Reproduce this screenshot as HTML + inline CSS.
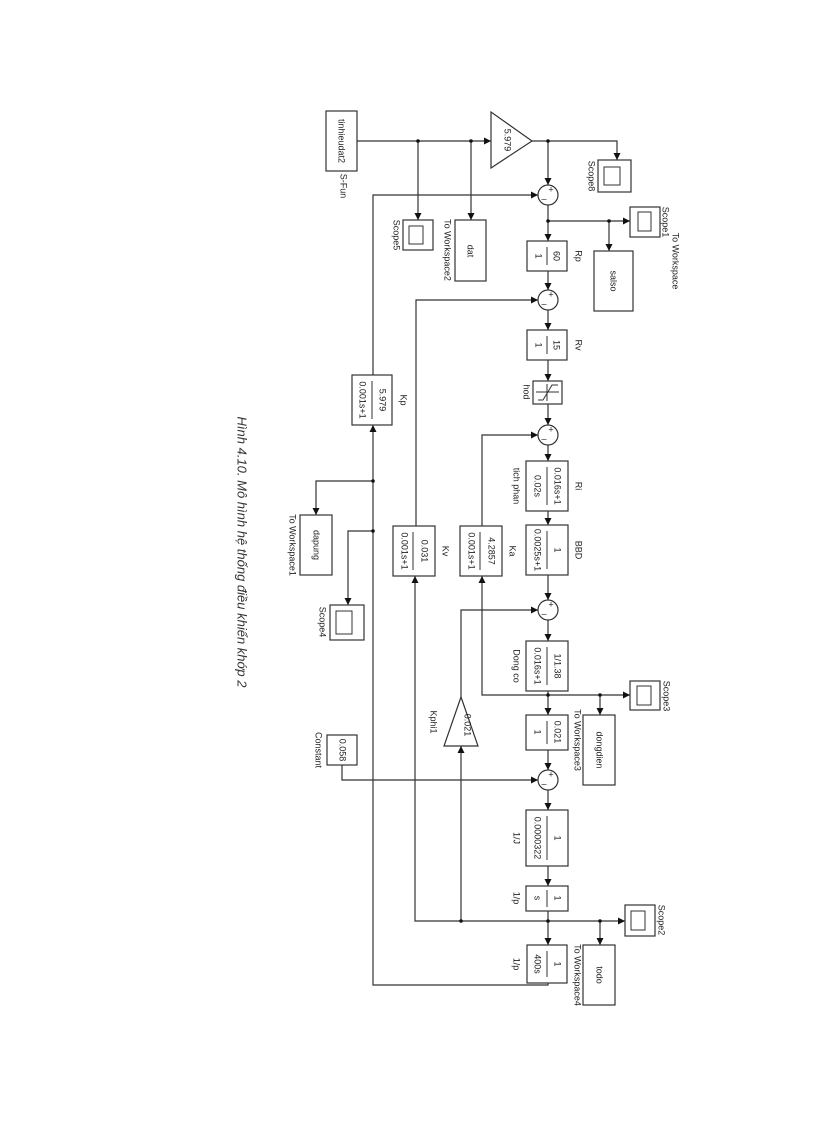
<!DOCTYPE html>
<html><head><meta charset="utf-8"><style>
html,body{margin:0;padding:0;background:#fff;}
svg{display:block;}
text{font-family:"Liberation Sans",sans-serif;font-size:9px;fill:#222;}
</style></head><body>
<svg width="816" height="1123" viewBox="0 0 816 1123" xmlns="http://www.w3.org/2000/svg">
<defs>
<marker id="a" viewBox="0 0 10 10" refX="10" refY="5" markerWidth="7" markerHeight="7" orient="auto" markerUnits="userSpaceOnUse"><path d="M0,0 L10,5 L0,10 z" fill="#111"/></marker>
</defs>
<g fill="none" stroke="#333" stroke-width="1.2">
<path d="M357,141 H491" marker-end="url(#a)"/>
<path d="M418,141 V220" marker-end="url(#a)"/>
<path d="M471,141 V220" marker-end="url(#a)"/>
<path d="M532,141 H617 V160" marker-end="url(#a)"/>
<path d="M548,141 V185" marker-end="url(#a)"/>
<path d="M373,375 V195 H538" marker-end="url(#a)"/>
<path d="M548,205 V241" marker-end="url(#a)"/>
<path d="M548,221 H630" marker-end="url(#a)"/>
<path d="M609,221 V251" marker-end="url(#a)"/>
<path d="M548,271 V290" marker-end="url(#a)"/>
<path d="M416,526 V300 H538" marker-end="url(#a)"/>
<path d="M548,310 V330" marker-end="url(#a)"/>
<path d="M548,360 V381" marker-end="url(#a)"/>
<path d="M548,404 V425" marker-end="url(#a)"/>
<path d="M482,526 V435 H538" marker-end="url(#a)"/>
<path d="M548,445 V461" marker-end="url(#a)"/>
<path d="M548,511 V525" marker-end="url(#a)"/>
<path d="M548,575 V600" marker-end="url(#a)"/>
<path d="M461,697 V610 H538" marker-end="url(#a)"/>
<path d="M548,620 V641" marker-end="url(#a)"/>
<path d="M548,691 V715" marker-end="url(#a)"/>
<path d="M548,695 H630" marker-end="url(#a)"/>
<path d="M548,695 H482 V576" marker-end="url(#a)"/>
<path d="M600,695 V715" marker-end="url(#a)"/>
<path d="M548,750 V770" marker-end="url(#a)"/>
<path d="M342,765 V780 H538" marker-end="url(#a)"/>
<path d="M548,790 V810" marker-end="url(#a)"/>
<path d="M548,866 V886" marker-end="url(#a)"/>
<path d="M548,911 V945" marker-end="url(#a)"/>
<path d="M548,921 H625" marker-end="url(#a)"/>
<path d="M548,921 H415 V576" marker-end="url(#a)"/>
<path d="M461,921 V746" marker-end="url(#a)"/>
<path d="M600,921 V945" marker-end="url(#a)"/>
<path d="M548,983 V985 H373 V425" marker-end="url(#a)"/>
<path d="M373,481 H316 V515" marker-end="url(#a)"/>
<path d="M373,531 H348 V605" marker-end="url(#a)"/>
</g>
<g fill="#111">
<circle cx="418" cy="141" r="1.8"/><circle cx="471" cy="141" r="1.8"/><circle cx="548" cy="141" r="1.8"/>
<circle cx="548" cy="221" r="1.8"/><circle cx="609" cy="221" r="1.8"/><circle cx="548" cy="695" r="1.8"/>
<circle cx="600" cy="695" r="1.8"/><circle cx="548" cy="921" r="1.8"/><circle cx="461" cy="921" r="1.8"/>
<circle cx="600" cy="921" r="1.8"/><circle cx="373" cy="481" r="1.8"/><circle cx="373" cy="531" r="1.8"/>
</g>
<g fill="#fff" stroke="#333" stroke-width="1.2">
<rect x="326" y="111" width="31" height="60"/>
<polygon points="491,112 491,168 532,141"/>
<rect x="403" y="220" width="30" height="30"/>
<rect x="455" y="220" width="31" height="61"/>
<rect x="598" y="160" width="33" height="32"/>
<rect x="630" y="207" width="30" height="30"/>
<rect x="594" y="251" width="39" height="60"/>
<rect x="352" y="375" width="40" height="50"/>
<rect x="527" y="241" width="40" height="30"/>
<rect x="527" y="330" width="40" height="30"/>
<rect x="533" y="381" width="29" height="23"/>
<rect x="526" y="461" width="42" height="50"/>
<rect x="526" y="525" width="42" height="50"/>
<rect x="460" y="526" width="42" height="50"/>
<rect x="393" y="526" width="42" height="50"/>
<rect x="526" y="641" width="42" height="50"/>
<rect x="630" y="681" width="30" height="29"/>
<rect x="583" y="715" width="32" height="70"/>
<rect x="526" y="715" width="42" height="35"/>
<polygon points="461,697 444,746 478,746"/>
<rect x="327" y="735" width="30" height="30"/>
<rect x="526" y="810" width="42" height="56"/>
<rect x="526" y="886" width="42" height="25"/>
<rect x="625" y="905" width="30" height="31"/>
<rect x="583" y="945" width="32" height="60"/>
<rect x="527" y="945" width="40" height="38"/>
<rect x="300" y="515" width="32" height="60"/>
<rect x="330" y="605" width="34" height="35"/>
<circle cx="548" cy="195" r="10"/><circle cx="548" cy="300" r="10"/><circle cx="548" cy="435" r="10"/>
<circle cx="548" cy="610" r="10"/><circle cx="548" cy="780" r="10"/>
</g>
<g fill="none" stroke="#333" stroke-width="1">
<rect x="409" y="226" width="14" height="18"/><rect x="604" y="167" width="16" height="18"/>
<rect x="638" y="212" width="13" height="19"/><rect x="637" y="686" width="14" height="19"/>
<rect x="631" y="911" width="14" height="19"/><rect x="336" y="611" width="16" height="23"/>
<path d="M547,247 V265 M547,336 V354 M547,467 V505 M547,531 V569 M480,532 V570 M413,532 V570 M372,381 V419 M547,647 V685 M547,721 V744 M547,816 V860 M547,890 V907 M547,951 V977"/>
<path d="M536,392 H559 M547,384 V401 M538,400 L543,400 Q548,392 552,385 L558,385"/>
</g>
<g text-anchor="middle" dominant-baseline="middle">
<text transform="translate(341,141) rotate(90)">tinhieudat2</text>
<text transform="translate(343,186) rotate(90)">S-Fun</text>
<text transform="translate(507,140) rotate(90)">5.979</text>
<text transform="translate(470,251) rotate(90)">dat</text>
<text transform="translate(447,250) rotate(90)">To Workspace2</text>
<text transform="translate(396,235) rotate(90)">Scope5</text>
<text transform="translate(591,176) rotate(90)">Scope8</text>
<text transform="translate(665,222) rotate(90)">Scope1</text>
<text transform="translate(675,261) rotate(90)">To Workspace</text>
<text transform="translate(613,281) rotate(90)">salso</text>
<text transform="translate(556,256) rotate(90)">60</text><text transform="translate(538,256) rotate(90)">1</text>
<text transform="translate(578,256) rotate(90)">Rp</text>
<text transform="translate(556,345) rotate(90)">15</text><text transform="translate(538,345) rotate(90)">1</text>
<text transform="translate(578,345) rotate(90)">Rv</text>
<text transform="translate(526,392) rotate(90)">hod</text>
<text transform="translate(557,486) rotate(90)">0.016s+1</text><text transform="translate(537,486) rotate(90)">0.02s</text>
<text transform="translate(578,486) rotate(90)">Ri</text><text transform="translate(516,486) rotate(90)">tich phan</text>
<text transform="translate(557,550) rotate(90)">1</text><text transform="translate(537,550) rotate(90)">0.0025s+1</text>
<text transform="translate(578,550) rotate(90)">BBD</text>
<text transform="translate(491,551) rotate(90)">4.2857</text><text transform="translate(471,551) rotate(90)">0.001s+1</text>
<text transform="translate(512,551) rotate(90)">Ka</text>
<text transform="translate(424,551) rotate(90)">0.031</text><text transform="translate(404,551) rotate(90)">0.001s+1</text>
<text transform="translate(445,551) rotate(90)">Kv</text>
<text transform="translate(382,400) rotate(90)">5.979</text><text transform="translate(362,400) rotate(90)">0.001s+1</text>
<text transform="translate(403,400) rotate(90)">Kp</text>
<text transform="translate(316,545) rotate(90)">dapung</text>
<text transform="translate(292,545) rotate(90)">To Workspace1</text>
<text transform="translate(322,622) rotate(90)">Scope4</text>
<text transform="translate(557,666) rotate(90)">1/1.38</text><text transform="translate(537,666) rotate(90)">0.016s+1</text>
<text transform="translate(516,666) rotate(90)">Dong co</text>
<text transform="translate(666,696) rotate(90)">Scope3</text>
<text transform="translate(599,750) rotate(90)">dongdien</text>
<text transform="translate(577,740) rotate(90)">To Workspace3</text>
<text transform="translate(557,732) rotate(90)">0.021</text><text transform="translate(537,732) rotate(90)">1</text>
<text transform="translate(467,725) rotate(90)">0.021</text>
<text transform="translate(433,722) rotate(90)">Kphi1</text>
<text transform="translate(342,750) rotate(90)">0.058</text>
<text transform="translate(318,750) rotate(90)">Constant</text>
<text transform="translate(557,838) rotate(90)">1</text><text transform="translate(537,838) rotate(90)">0.0000322</text>
<text transform="translate(516,838) rotate(90)">1/J</text>
<text transform="translate(557,898) rotate(90)">1</text><text transform="translate(537,898) rotate(90)">s</text>
<text transform="translate(516,898) rotate(90)">1/p</text>
<text transform="translate(661,920) rotate(90)">Scope2</text>
<text transform="translate(599,975) rotate(90)">todo</text>
<text transform="translate(577,975) rotate(90)">To Workspace4</text>
<text transform="translate(557,964) rotate(90)">1</text><text transform="translate(537,964) rotate(90)">400s</text>
<text transform="translate(516,964) rotate(90)">1/p</text>
<text transform="translate(241,552) rotate(90)" style="font-size:13px;font-style:italic;fill:#333">Hình 4.10. Mô hình hệ thống điều khiển khớp 2</text>
</g>
<g style="font-size:8px" text-anchor="middle" dominant-baseline="middle">
<text x="551" y="190">+</text><text x="544" y="199">–</text>
<text x="551" y="295">+</text><text x="544" y="304">–</text>
<text x="551" y="430">+</text><text x="544" y="439">–</text>
<text x="551" y="605">+</text><text x="544" y="614">–</text>
<text x="551" y="775">+</text><text x="544" y="784">–</text>
</g>
</svg>
</body></html>
